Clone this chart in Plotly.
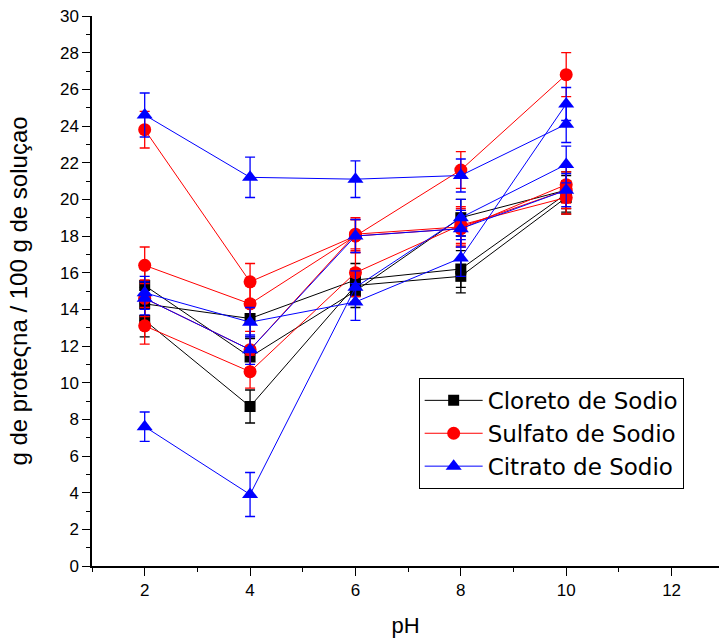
import plotly.graph_objects as go

# pH levels tested
ph = [2, 4, 6, 8, 10]

# Cloreto de Sodio (three runs) and their error margins
cloreto_a = [15.3, 11.4, 15.0, 19.0, 20.5]
cloreto_b = [14.3, 13.5, 15.6, 16.2, 20.3]
cloreto_c = [13.4, 8.7, 15.3, 15.8, 20.1]
cloreto_a_err = [0.9, 1.0, 0.9, 1.0, 1.0]
cloreto_b_err = [0.9, 1.0, 0.9, 1.0, 1.0]
cloreto_c_err = [0.9, 0.9, 0.9, 0.9, 0.9]

# Sulfato de Sodio (four runs)
sulfato_a = [23.8, 15.5, 18.0, 21.6, 26.8]
sulfato_b = [16.4, 14.3, 18.0, 18.4, 20.8]
sulfato_c = [13.1, 10.6, 16.0, 18.6, 20.1]
sulfato_d = [14.6, 11.8, 18.1, 18.5, 20.5]
sulfato_a_err = [1.0, 1.0, 0.9, 1.0, 1.2]
sulfato_b_err = [1.0, 1.0, 0.9, 1.0, 1.0]
sulfato_c_err = [1.0, 0.9, 1.3, 1.0, 0.9]
sulfato_d_err = [1.0, 1.0, 0.9, 1.0, 1.0]

# Citrato de Sodio (four runs)
citrato_a = [24.6, 21.2, 21.1, 21.3, 24.1]
citrato_b = [7.6, 3.9, 15.2, 19.0, 21.9]
citrato_c = [14.9, 13.3, 14.4, 16.8, 25.2]
citrato_d = [14.6, 11.8, 18.0, 18.4, 20.5]
citrato_a_err = [1.2, 1.1, 1.0, 0.9, 1.0]
citrato_b_err = [0.8, 1.2, 0.9, 1.0, 1.0]
citrato_c_err = [0.9, 0.8, 1.0, 1.0, 0.9]
citrato_d_err = [0.9, 0.8, 0.9, 1.0, 0.9]

groups = [
    ("Cloreto de Sodio", "black", "square", 11,
     [(cloreto_a, cloreto_a_err), (cloreto_b, cloreto_b_err), (cloreto_c, cloreto_c_err)]),
    ("Sulfato de Sodio", "red", "circle", 13,
     [(sulfato_a, sulfato_a_err), (sulfato_b, sulfato_b_err),
      (sulfato_c, sulfato_c_err), (sulfato_d, sulfato_d_err)]),
    ("Citrato de Sodio", "blue", "triangle-up", 14,
     [(citrato_a, citrato_a_err), (citrato_b, citrato_b_err),
      (citrato_c, citrato_c_err), (citrato_d, citrato_d_err)]),
]

fig = go.Figure()
for name, color, symbol, size, runs in groups:
    for i, (vals, errs) in enumerate(runs):
        fig.add_trace(go.Scatter(
            x=ph, y=vals, mode="lines+markers", name=name,
            legendgroup=name, showlegend=(i == 0),
            line=dict(color=color, width=1),
            marker=dict(symbol=symbol, size=size, color=color),
            error_y=dict(type="data", array=errs, visible=True,
                         color=color, thickness=1.3, width=5),
        ))

font_family = "Liberation Sans, Arial, sans-serif"

fig.update_layout(
    width=719, height=638,
    margin=dict(l=92, r=0, t=16, b=72),
    paper_bgcolor="white", plot_bgcolor="white",
    font=dict(family=font_family, color="black"),
    showlegend=True,
    legend=dict(
        x=0.521, y=0.342, xanchor="left", yanchor="top",
        bgcolor="white", bordercolor="black", borderwidth=1,
        font=dict(size=23, family="DejaVu Sans, Liberation Sans, sans-serif"),
        tracegroupgap=0, itemwidth=58,
    ),
    xaxis=dict(
        range=[1, 12.9], tickmode="array", tickvals=[2, 4, 6, 8, 10, 12],
        ticks="outside", ticklen=8, tickwidth=1.3, tickcolor="black",
        minor=dict(tickvals=[1, 3, 5, 7, 9, 11], ticks="outside", ticklen=4,
                   tickwidth=1.3, tickcolor="black"),
        showline=True, linecolor="black", linewidth=1.5,
        showgrid=False, zeroline=False,
        tickfont=dict(size=17),
        title=dict(text="pH", font=dict(size=22), standoff=20),
    ),
    yaxis=dict(
        range=[0, 30], tickmode="linear", tick0=0, dtick=2,
        ticks="outside", ticklen=8, tickwidth=1.3, tickcolor="black",
        minor=dict(dtick=1, ticks="outside", ticklen=4,
                   tickwidth=1.3, tickcolor="black"),
        showline=True, linecolor="black", linewidth=1.5,
        showgrid=False, zeroline=False,
        tickfont=dict(size=17),
        title=dict(text="g de proteςna / 100 g de soluçao", font=dict(size=24),
                   standoff=26),
    ),
)

fig.write_html("out.html")
